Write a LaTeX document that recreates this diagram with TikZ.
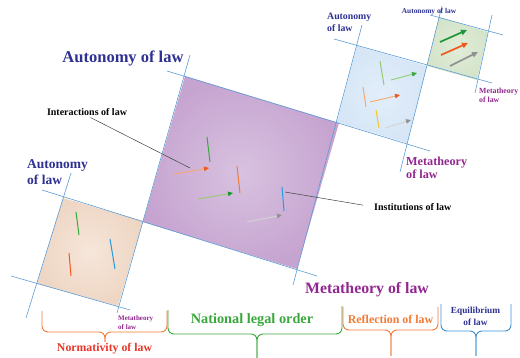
\documentclass[tikz,border=0pt]{standalone}
\usepackage{fontspec}
\setmainfont{Liberation Serif}
\usetikzlibrary{arrows.meta, calc}

\definecolor{lawnavy}{RGB}{46,49,146}
\definecolor{lawpurple}{RGB}{146,39,143}
\definecolor{gridblue}{RGB}{91,155,213}
\definecolor{lawgreen}{RGB}{57,168,60}
\definecolor{laworange}{RGB}{240,122,55}
\definecolor{lawred}{RGB}{232,52,40}
\definecolor{braceblue}{RGB}{60,145,210}
\definecolor{peachout}{RGB}{238,214,196}
\definecolor{peachin}{RGB}{246,230,218}
\definecolor{lilacout}{RGB}{198,164,208}
\definecolor{lilacin}{RGB}{216,194,224}
\definecolor{skyout}{RGB}{214,230,246}
\definecolor{skyin}{RGB}{226,238,250}
\definecolor{mintout}{RGB}{212,228,202}
\definecolor{mintin}{RGB}{224,236,216}
\definecolor{greenlt}{RGB}{150,205,110}
\definecolor{greendk}{RGB}{30,150,55}
\definecolor{orangelt}{RGB}{248,168,110}
\definecolor{orangedk}{RGB}{240,88,30}
\definecolor{graylt}{RGB}{212,212,212}
\definecolor{graydk}{RGB}{145,145,145}
\definecolor{strokeblue}{RGB}{35,155,220}
\definecolor{strokeyellow}{RGB}{245,200,40}

\begin{document}
\begin{tikzpicture}[
        x=1pt, y=-1pt,
        gridline/.style={draw=gridblue, line width=0.6pt},
        stroke/.style={line width=1pt},
        flow/.style 2 args={draw=#1, line width=0.9pt, -{Triangle[length=5pt,width=4.5pt,color=#2]}},
        boldflow/.style={draw=#1, line width=1.7pt, -{Triangle[length=6pt,width=5.5pt]}},
        brace/.style={line width=0.9pt, rounded corners=6pt},
        callout/.style={draw=black!75, line width=0.5pt},
        txt/.style={inner sep=0pt, align=left, font=\bfseries}
        ]

        \useasboundingbox (0,0) rectangle (520,358);

        % Corners of the four squares
        \coordinate (s1) at (37,284);  \coordinate (s2) at (118,306);
        \coordinate (s3) at (143,221); \coordinate (s4) at (63,198);
        \coordinate (p1) at (143,222); \coordinate (p2) at (297,269);
        \coordinate (p3) at (339,123); \coordinate (p4) at (185,76);
        \coordinate (b1) at (337,122); \coordinate (b2) at (407,143);
        \coordinate (b3) at (427,66);  \coordinate (b4) at (357,46);
        \coordinate (g1) at (427,66);  \coordinate (g2) at (477,80);
        \coordinate (g3) at (488,32);  \coordinate (g4) at (439,17);

        % Squares
        \shade[inner color=peachin, outer color=peachout] (s1) -- (s2) -- (s3) -- (s4) -- cycle;
        \shade[inner color=lilacin, outer color=lilacout] (p1) -- (p2) -- (p3) -- (p4) -- cycle;
        \shade[inner color=skyin, outer color=skyout] (b1) -- (b2) -- (b3) -- (b4) -- cycle;
        \shade[inner color=mintin, outer color=mintout] (g1) -- (g2) -- (g3) -- (g4) -- cycle;

        % Grid lines
        \draw[gridline] (71,173) -- (26,318);
        \draw[gridline] (11,276) -- (130,310);
        \draw[gridline] (42,190) -- (317,276);
        \draw[gridline] (190,55) -- (117,313);
        \draw[gridline] (167,71) -- (430,151);
        \draw[gridline] (362,25) -- (293,285);
        \draw[gridline] (334,39) -- (492,83);
        \draw[gridline] (442,6) -- (400,172);
        \draw[gridline] (430,15) -- (503,35);
        \draw[gridline] (492,15) -- (475,93);

        % Small square strokes
        \draw[stroke, lawgreen] (76,212) -- (79,235);
        \draw[stroke, orangedk] (69,253) -- (71,276);
        \draw[stroke, strokeblue] (110,239) -- (115,269);

        % Large square strokes and arrows
        \draw[stroke, lawgreen] (207,137) -- (210,162);
        \draw[stroke, laworange] (237,166) -- (240,193);
        \draw[stroke, strokeblue] (282,187) -- (284,211);
        \draw[flow={orangelt}{orangedk}] (174,174) -- (209,168);
        \draw[flow={greenlt}{greendk}] (198,199) -- (233,193);
        \draw[flow={graylt}{graydk}] (247,222) -- (282,215);

        % Blue square strokes and arrows
        \draw[stroke, greenlt] (380,61) -- (384,85);
        \draw[stroke, orangelt] (363,87) -- (366,107);
        \draw[stroke, strokeyellow] (376,110) -- (379,128);
        \draw[flow={greenlt}{lawgreen}] (391,80) -- (417,73);
        \draw[flow={orangelt}{orangedk}] (370,102) -- (400,95);
        \draw[flow={graylt}{graydk}] (385,128) -- (411,120);

        % Green square arrows
        \draw[boldflow=greendk] (440,42) -- (467,30);
        \draw[boldflow=orangedk] (441,55) -- (468,43);
        \draw[boldflow=graydk] (450,66) -- (478,52);

        % Labels
        \node[txt, text=lawnavy, font=\fontsize{16.5}{18}\selectfont\bfseries] (autoBig) at (123,58) {Autonomy of law};
        \node[txt, text=lawnavy, anchor=west, font=\fontsize{13.5}{16}\selectfont\bfseries] (autoLeft) at (27,172) {Autonomy\\of law};
        \node[txt, text=lawnavy, anchor=west, font=\fontsize{9.8}{12}\selectfont\bfseries] (autoBlue) at (327,22) {Autonomy\\of law};
        \node[txt, text=lawnavy, font=\fontsize{7.4}{9}\selectfont\bfseries] (autoGreen) at (429,12) {Autonomy of law};
        \node[txt, text=lawpurple, anchor=west, font=\fontsize{7.8}{9}\selectfont\bfseries] (metaGreen) at (479,95) {Metatheory\\of law};
        \node[txt, text=lawpurple, anchor=west, font=\fontsize{12.2}{13}\selectfont\bfseries] (metaBlue) at (406,168) {Metatheory\\of law};
        \node[txt, text=lawpurple, font=\fontsize{15.8}{18}\selectfont\bfseries] (metaBig) at (367,290) {Metatheory of law};
        \node[txt, text=lawpurple, anchor=west, font=\fontsize{7}{9}\selectfont\bfseries] (metaSmall) at (118,323) {Metatheory\\of law};
        \node[txt, font=\fontsize{10}{12}\selectfont\bfseries] (interact) at (87,112) {Interactions of law};
        \node[txt, anchor=west, font=\fontsize{10}{12}\selectfont\bfseries] (institut) at (374,207) {Institutions of law};

        % Callouts
        \coordinate (interTip) at (190,168);
        \coordinate (instTip) at (285,192);
        \draw[callout, shorten <=4pt] (interact.south) -- (interTip);
        \draw[callout, shorten >=11pt] (instTip) -- (institut.west);

        % Braces
        \draw[brace, laworange] (42,311) -- (42,332) -- (105,332) -- (105,342);
        \draw[brace, laworange] (167,311) -- (167,332) -- (105,332) -- (105,342);
        \draw[brace, lawgreen] (168,310) -- (168,334) -- (257,334) -- (257,358);
        \draw[brace, lawgreen] (342,306) -- (342,334) -- (257,334) -- (257,358);
        \draw[brace, laworange] (343,307) -- (343,330) -- (391,330) -- (391,356);
        \draw[brace, laworange] (438,307) -- (438,330) -- (391,330) -- (391,356);
        \draw[brace, braceblue] (441,304) -- (441,331) -- (476,331) -- (476,356);
        \draw[brace, braceblue] (511,304) -- (511,331) -- (476,331) -- (476,356);

        \node[txt, text=lawred, font=\fontsize{11.8}{14}\selectfont\bfseries] (normat) at (104.5,349) {Normativity of law};
        \node[txt, text=lawgreen, font=\fontsize{14.3}{16}\selectfont\bfseries] (national) at (252,320) {National legal order};
        \node[txt, text=laworange, font=\fontsize{11.9}{14}\selectfont\bfseries] (reflect) at (390.5,319) {Reflection of law};
        \node[txt, text=lawnavy, align=center, font=\fontsize{9.3}{12}\selectfont\bfseries] (equil) at (475.5,316) {Equilibrium\\of law};

    \end{tikzpicture}
\end{document}
